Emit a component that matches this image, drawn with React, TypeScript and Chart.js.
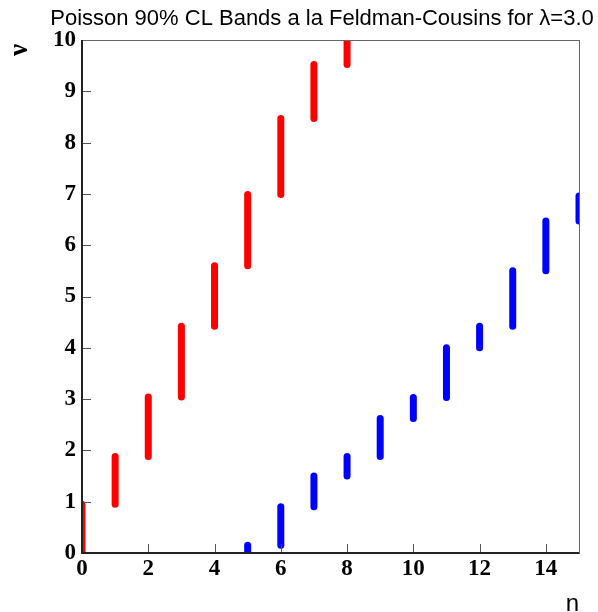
import React, { useEffect, useRef } from "react";
import { Chart, registerables } from "chart.js";

Chart.register(...registerables);

const titleText = "Poisson 90% CL Bands a la Feldman-Cousins for \u03bb=3.0";
const xTitle = "n";
const yTitle = "\u03bd";

const xTicks = [0, 2, 4, 6, 8, 10, 12, 14];
const yTicks = [0, 1, 2, 3, 4, 5, 6, 7, 8, 9, 10];

// Upper band (red): at each n the interval [low, high]
const redN = [0, 1, 2, 3, 4, 5, 6, 7, 8];
const redLow = [0, 0.95, 1.88, 3.04, 4.42, 5.6, 6.99, 8.47, 9.52];
const redHigh = [0.95, 1.88, 3.04, 4.42, 5.6, 6.99, 8.47, 9.52, 10.99];

// Lower band (blue)
const blueN = [5, 6, 7, 8, 9, 10, 11, 12, 13, 14, 15];
const blueLow = [0, 0.15, 0.9, 1.5, 1.88, 2.62, 3.03, 4.0, 4.42, 5.5, 6.47];
const blueHigh = [0.15, 0.9, 1.5, 1.88, 2.62, 3.03, 4.0, 4.42, 5.5, 6.47, 6.96];

const W = 598;
const H = 612;
const AREA = { left: 82, right: 579, top: 40, bottom: 553 };

function segs(ns: number[], lo: number[], hi: number[], color: string) {
  return ns.map((n, i) => ({
    data: [
      { x: n, y: lo[i] },
      { x: n, y: hi[i] },
    ],
    borderColor: color,
    backgroundColor: color,
    borderWidth: 7,
    borderCapStyle: "round" as const,
    pointRadius: 0,
    clip: 0,
  }));
}

const framePlugin = {
  id: "frame",
  afterDraw(chart: any) {
    const { ctx, chartArea, scales } = chart;
    const { left, right, top, bottom } = chartArea;
    ctx.save();
    // tick marks inside
    ctx.strokeStyle = "#555";
    ctx.lineWidth = 1;
    ctx.beginPath();
    for (const v of yTicks) {
      const y = Math.round(scales.y.getPixelForValue(v)) + 0.5;
      ctx.moveTo(left, y);
      ctx.lineTo(left + 9, y);
    }
    for (const v of xTicks) {
      const x = Math.round(scales.x.getPixelForValue(v)) + 0.5;
      ctx.moveTo(x, bottom);
      ctx.lineTo(x, bottom - 9);
    }
    ctx.stroke();
    // frame
    ctx.strokeStyle = "#666";
    ctx.lineWidth = 1;
    ctx.strokeRect(left + 0.5, top + 0.5, right - left, bottom - top);
    ctx.strokeStyle = "#222";
    ctx.lineWidth = 2;
    ctx.beginPath();
    ctx.moveTo(left, top);
    ctx.lineTo(left, bottom);
    ctx.lineTo(right, bottom);
    ctx.stroke();
    // title
    ctx.fillStyle = "#000";
    ctx.font = "22px 'Liberation Sans', Arial, sans-serif";
    ctx.textAlign = "center";
    ctx.textBaseline = "alphabetic";
    ctx.fillText(titleText, 322, 25);
    // x title
    ctx.font = "24px 'Liberation Sans', Arial, sans-serif";
    ctx.textAlign = "right";
    ctx.fillText(xTitle, 579, 611);
    // y title rotated
    ctx.translate(20, 50);
    ctx.rotate(-Math.PI / 2);
    ctx.font = "bold 27px 'Liberation Serif', serif";
    ctx.textAlign = "center";
    ctx.textBaseline = "middle";
    ctx.fillText(yTitle, 0, 0);
    ctx.restore();
  },
};

export default function App() {
  const ref = useRef<HTMLCanvasElement>(null);
  useEffect(() => {
    document.body.style.margin = "0";
    const canvas = ref.current!;
    const tickFont = { family: "'Liberation Serif', 'Times New Roman', serif", size: 23, weight: "bold" as const };
    const chart = new Chart(canvas, {
      type: "line",
      data: {
        datasets: [
          ...segs(redN, redLow, redHigh, "#ff0000"),
          ...segs(blueN, blueLow, blueHigh, "#0000ff"),
        ] as any,
      },
      options: {
        animation: false,
        responsive: false,
        maintainAspectRatio: false,
        layout: { padding: { left: 0, right: W - AREA.right, top: AREA.top, bottom: 0 } },
        plugins: { legend: { display: false }, tooltip: { enabled: false }, title: { display: false } },
        scales: {
          x: {
            type: "linear",
            min: 0,
            max: 15,
            grid: { display: false, drawTicks: false },
            border: { display: false },
            afterBuildTicks: (s: any) => {
              s.ticks = xTicks.map((v) => ({ value: v }));
            },
            afterFit: (s: any) => {
              s.height = H - AREA.bottom;
            },
            ticks: { font: tickFont, color: "#000", padding: 2, maxRotation: 0, autoSkip: false },
          },
          y: {
            type: "linear",
            min: 0,
            max: 10,
            grid: { display: false, drawTicks: false },
            border: { display: false },
            afterBuildTicks: (s: any) => {
              s.ticks = yTicks.map((v) => ({ value: v }));
            },
            afterFit: (s: any) => {
              s.width = AREA.left;
            },
            ticks: { font: tickFont, color: "#000", padding: 6, autoSkip: false },
          },
        },
      },
      plugins: [framePlugin],
    });
    return () => chart.destroy();
  }, []);
  return (
    <div style={{ width: W, height: H }}>
      <canvas ref={ref} width={W} height={H} style={{ width: W, height: H, display: "block" }} />
    </div>
  );
}
